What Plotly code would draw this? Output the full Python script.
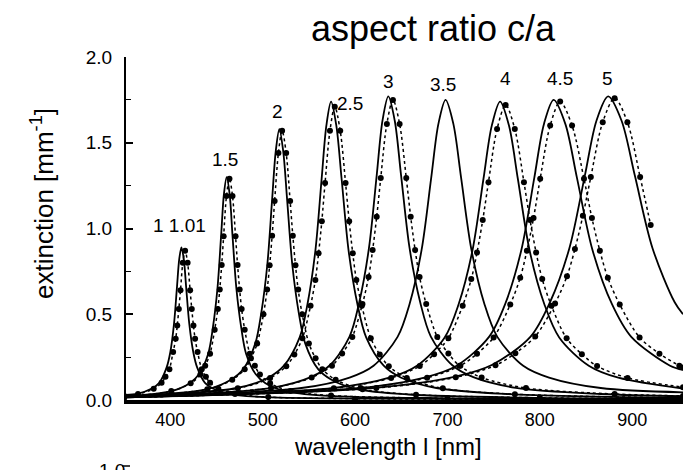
import plotly.graph_objects as go

# ---- data (wavelength nm, extinction mm^-1) ----
# solid curves
wl_s1 = [350, 364, 380, 388, 396, 400, 404, 407.2, 409.6, 412, 414.6, 417.1, 420.5, 424.8, 429, 437.5, 446, 463, 497, 600, 955]
ex_s1 = [0.03, 0.036, 0.067, 0.10, 0.19, 0.28, 0.445, 0.66, 0.82, 0.89, 0.82, 0.66, 0.445, 0.28, 0.19, 0.10, 0.067, 0.036, 0.018, 0.008, 0.003]
wl_s15 = [350, 401, 421, 431, 441, 446, 451, 455, 458, 461, 464.2, 467.3, 471.5, 476.8, 482, 492.5, 503, 524, 566, 700, 955]
ex_s15 = [0.02, 0.052, 0.098, 0.15, 0.27, 0.42, 0.65, 0.96, 1.20, 1.30, 1.20, 0.96, 0.65, 0.42, 0.27, 0.15, 0.098, 0.052, 0.026, 0.01, 0.004]
wl_s2 = [350, 440, 466, 479, 492, 498.5, 505, 510.2, 514.1, 518, 522.2, 526.4, 532, 539, 546, 560, 574, 602, 658, 800, 955]
ex_s2 = [0.02, 0.063, 0.12, 0.18, 0.33, 0.51, 0.79, 1.17, 1.45, 1.58, 1.45, 1.17, 0.79, 0.51, 0.33, 0.18, 0.12, 0.063, 0.032, 0.012, 0.006]
wl_s25 = [350, 472, 506, 523, 540, 548.5, 557, 563.8, 568.9, 574, 579.7, 585.4, 593, 602.5, 612, 631, 650, 688, 764, 955]
ex_s25 = [0.02, 0.07, 0.13, 0.20, 0.365, 0.56, 0.87, 1.29, 1.60, 1.74, 1.60, 1.29, 0.87, 0.56, 0.365, 0.20, 0.13, 0.07, 0.035, 0.012]
wl_s3 = [350, 510, 552, 573, 594, 604.5, 615, 623.4, 629.7, 636, 642.9, 649.8, 659, 670.5, 682, 705, 728, 774, 866, 955]
ex_s3 = [0.02, 0.071, 0.133, 0.204, 0.37, 0.57, 0.885, 1.31, 1.63, 1.77, 1.63, 1.31, 0.885, 0.57, 0.37, 0.204, 0.133, 0.071, 0.035, 0.022]
wl_s35 = [350, 542, 594, 620, 646, 659, 672, 682.4, 690.2, 698, 706.4, 714.8, 726, 740, 754, 782, 810, 866, 955]
ex_s35 = [0.02, 0.07, 0.131, 0.20, 0.368, 0.56, 0.875, 1.295, 1.61, 1.75, 1.61, 1.295, 0.875, 0.56, 0.368, 0.20, 0.131, 0.07, 0.045]
wl_s4 = [350, 577, 637, 667, 697, 712, 727, 739, 748, 757, 766.6, 776.2, 789, 805, 821, 853, 885, 955]
ex_s4 = [0.015, 0.07, 0.13, 0.20, 0.365, 0.557, 0.87, 1.29, 1.60, 1.74, 1.60, 1.29, 0.87, 0.557, 0.365, 0.20, 0.13, 0.067]
wl_s45 = [350, 605, 675, 710, 745, 762.5, 780, 794, 804.5, 815, 827.6, 840.2, 857, 878, 899, 941, 955]
ex_s45 = [0.015, 0.07, 0.131, 0.20, 0.368, 0.56, 0.875, 1.295, 1.61, 1.75, 1.61, 1.295, 0.875, 0.56, 0.368, 0.20, 0.175]
wl_s5 = [350, 622, 706, 748, 790, 811, 832, 848.8, 861.4, 874, 888.4, 902.8, 922, 946, 955]
ex_s5 = [0.015, 0.071, 0.133, 0.204, 0.37, 0.57, 0.885, 1.31, 1.63, 1.77, 1.63, 1.31, 0.885, 0.57, 0.50]

# dotted curves with dots
wl_d1 = [350, 365, 382, 390.5, 394.75, 399, 403, 405.8, 407.5, 409.2, 411, 413.5, 416, 418.7, 421.4, 423.2, 425, 426.8, 429.5, 434, 438.5, 443, 452, 470, 506, 600, 955]
ex_d1 = [0.025, 0.035, 0.065, 0.10, 0.135, 0.18, 0.28, 0.357, 0.435, 0.53, 0.64, 0.80, 0.87, 0.80, 0.64, 0.53, 0.435, 0.357, 0.28, 0.18, 0.135, 0.10, 0.065, 0.035, 0.017, 0.008, 0.003]
wl_d15 = [350, 401, 422, 432.5, 437.75, 443, 448, 451.4, 453.5, 455.6, 457.7, 460.8, 464, 467.3, 470.6, 472.8, 475, 477.2, 480.5, 486, 491.5, 497, 508, 530, 574, 700, 955]
ex_d15 = [0.02, 0.052, 0.097, 0.148, 0.20, 0.27, 0.41, 0.53, 0.645, 0.787, 0.955, 1.19, 1.29, 1.19, 0.955, 0.787, 0.645, 0.53, 0.41, 0.27, 0.20, 0.148, 0.097, 0.052, 0.026, 0.01, 0.004]
wl_d2 = [350, 440, 467, 480.5, 487.25, 494, 500.8, 504.8, 507.5, 510.2, 512.9, 517, 521, 525.4, 529.7, 532.6, 535.5, 538.4, 542.8, 550, 557.25, 564.5, 579, 608, 666, 800, 955]
ex_d2 = [0.02, 0.063, 0.118, 0.18, 0.243, 0.33, 0.50, 0.644, 0.785, 0.958, 1.16, 1.44, 1.57, 1.44, 1.16, 0.958, 0.785, 0.644, 0.50, 0.33, 0.243, 0.18, 0.118, 0.063, 0.031, 0.013, 0.006]
wl_d25 = [350, 473, 508, 525.5, 534.25, 543, 551.8, 557, 560.5, 564, 567.5, 572.8, 578, 583.9, 589.7, 593.6, 597.5, 601.4, 607.3, 617, 626.75, 636.5, 656, 695, 773, 955]
ex_d25 = [0.02, 0.068, 0.128, 0.197, 0.265, 0.36, 0.55, 0.70, 0.855, 1.043, 1.265, 1.57, 1.71, 1.57, 1.265, 1.043, 0.855, 0.70, 0.55, 0.36, 0.265, 0.197, 0.128, 0.068, 0.034, 0.012]
wl_d3 = [350, 509, 553, 575, 586, 597, 608, 614.6, 619, 623.4, 627.8, 634.4, 641, 648.2, 655.4, 660.2, 665, 669.8, 677, 689, 701, 713, 737, 785, 881, 955]
ex_d3 = [0.02, 0.07, 0.131, 0.20, 0.271, 0.368, 0.56, 0.717, 0.875, 1.068, 1.295, 1.61, 1.75, 1.61, 1.295, 1.068, 0.875, 0.717, 0.56, 0.368, 0.271, 0.20, 0.131, 0.07, 0.035, 0.024]
wl_d4 = [350, 577, 639, 670, 685.5, 701, 716.5, 725.8, 732, 738.2, 744.4, 753.7, 763, 772.9, 782.8, 789.4, 796, 802.6, 812.5, 829, 845.5, 862, 895, 955]
ex_d4 = [0.015, 0.069, 0.129, 0.198, 0.267, 0.36, 0.55, 0.705, 0.86, 1.049, 1.27, 1.58, 1.72, 1.58, 1.27, 1.049, 0.86, 0.705, 0.55, 0.36, 0.267, 0.198, 0.129, 0.075]
wl_d45 = [350, 606, 678, 714, 732, 750, 768, 778.8, 786, 793.2, 800.4, 811.2, 822, 834.9, 847.8, 856.4, 865, 873.6, 886.5, 908, 929.5, 951, 955]
ex_d45 = [0.015, 0.07, 0.13, 0.20, 0.27, 0.365, 0.557, 0.713, 0.87, 1.061, 1.29, 1.60, 1.74, 1.60, 1.29, 1.061, 0.87, 0.713, 0.557, 0.365, 0.27, 0.20, 0.19]
wl_d5 = [350, 623, 709, 752, 773.5, 795, 816.5, 829.4, 838, 846.6, 855.2, 868.1, 881, 894.8, 908.6, 920]
ex_d5 = [0.015, 0.07, 0.132, 0.202, 0.273, 0.37, 0.563, 0.722, 0.88, 1.074, 1.30, 1.62, 1.76, 1.62, 1.30, 1.02]

# peak labels (aspect ratio) and their positions
label_text = ["1 1.01", "1.5", "2", "2.5", "3", "3.5", "4", "4.5", "5"]
label_wl = [409.7, 459, 515.7, 594.6, 636, 695.7, 763, 821.6, 873.5]
label_ex = [1.015, 1.405, 1.68, 1.73, 1.86, 1.837, 1.872, 1.872, 1.872]

x_ticks = [400, 500, 600, 700, 800, 900]

FONT = "Liberation Sans, Arial, Helvetica, sans-serif"

# plot area in pixels
L, R, T, B = 126, 2, 57, 70
PW, PH = 685 - L - R, 470 - T - B


def px(x):
    return (x - L) / PW


def py(y):
    return (470 - B - y) / PH


solid = [(wl_s1, ex_s1), (wl_s15, ex_s15), (wl_s2, ex_s2), (wl_s25, ex_s25), (wl_s3, ex_s3),
         (wl_s35, ex_s35), (wl_s4, ex_s4), (wl_s45, ex_s45), (wl_s5, ex_s5)]
dotted = [(wl_d1, ex_d1), (wl_d15, ex_d15), (wl_d2, ex_d2), (wl_d25, ex_d25), (wl_d3, ex_d3),
          (wl_d4, ex_d4), (wl_d45, ex_d45), (wl_d5, ex_d5)]

fig = go.Figure()
for wl, ex in solid:
    fig.add_trace(go.Scatter(x=wl, y=ex, mode="lines",
                             line=dict(color="black", width=1.8, shape="spline", smoothing=0.9),
                             showlegend=False, hoverinfo="skip"))
for wl, ex in dotted:
    fig.add_trace(go.Scatter(x=wl, y=ex, mode="lines+markers",
                             line=dict(color="black", width=1.5, dash="dot", shape="spline", smoothing=0.9),
                             marker=dict(color="black", size=6),
                             showlegend=False, hoverinfo="skip"))

annotations = []
for t, x, y in zip(label_text, label_wl, label_ex):
    annotations.append(dict(x=x, y=y, xref="x", yref="y", text=t, showarrow=False,
                            font=dict(family=FONT, size=19, color="black"),
                            xanchor="center", yanchor="middle"))

# title
annotations.append(dict(x=px(433), y=py(28), xref="paper", yref="paper", text="aspect ratio c/a",
                        showarrow=False, font=dict(family=FONT, size=36, color="black"),
                        xanchor="center", yanchor="middle"))
# y label
annotations.append(dict(x=px(42), y=py(204), xref="paper", yref="paper",
                        text="extinction [mm<sup>-1</sup>]", textangle=-90, showarrow=False,
                        font=dict(family=FONT, size=26, color="black"), xanchor="center", yanchor="middle"))
# x label
annotations.append(dict(x=px(388), y=py(446), xref="paper", yref="paper",
                        text="wavelength l [nm]", showarrow=False,
                        font=dict(family=FONT, size=24, color="black"), xanchor="center", yanchor="middle"))
# partial tick label of the panel below (cut by the page edge, as in the reference)
annotations.append(dict(x=px(112), y=py(470), xref="paper", yref="paper",
                        text="1.0", showarrow=False,
                        font=dict(family=FONT, size=19, color="black"), xanchor="center", yanchor="middle"))

fig.update_layout(
    width=685, height=470,
    margin=dict(l=L, r=R, t=T, b=B),
    paper_bgcolor="white", plot_bgcolor="white",
    annotations=annotations,
    xaxis=dict(range=[352, 955], showgrid=False, zeroline=False, showline=True, linecolor="black", linewidth=4,
               ticks="", tickvals=x_ticks, ticktext=[str(v) for v in x_ticks], ticklabelstandoff=0,
               tickfont=dict(family=FONT, size=18, color="black")),
    yaxis=dict(range=[0, 2.0], showgrid=False, zeroline=False, showline=True, linecolor="black", linewidth=2,
               ticks="inside", ticklen=7, tickwidth=1.5, tickcolor="black", dtick=0.5, tickformat=".1f",
               ticklabelstandoff=8,
               minor=dict(ticks="inside", ticklen=5, tickwidth=1.2, tickcolor="black", dtick=0.25),
               tickfont=dict(family=FONT, size=19, color="black")),
    shapes=[dict(type="line", xref="paper", yref="paper", x0=px(122), x1=px(130),
                 y0=py(466), y1=py(466), line=dict(color="black", width=1.5))],
)

fig.write_html("out.html")
